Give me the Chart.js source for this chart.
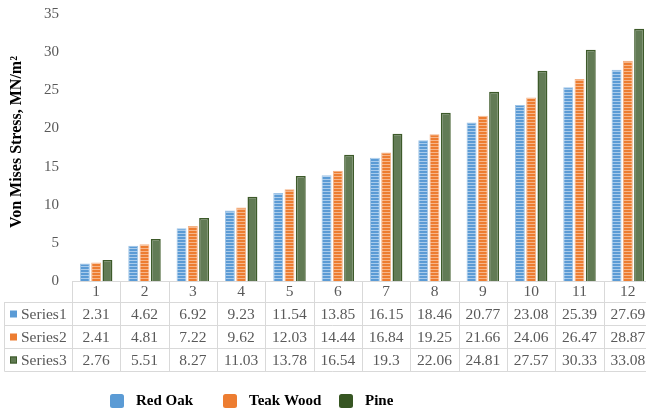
<!DOCTYPE html>
<html>
<head>
<meta charset="utf-8">
<script src="https://cdn.jsdelivr.net/npm/chart.js@4/dist/chart.umd.min.js"></script>
<style>
  html, body { margin: 0; padding: 0; overflow: hidden; background: #fff; width: 646px; height: 412px; }
  canvas { display: block; }
</style>
</head>
<body>
<canvas id="c" width="660" height="412"></canvas>
<script>
// Load steps along the x axis
const categories = ['1', '2', '3', '4', '5', '6', '7', '8', '9', '10', '11', '12'];

// Von Mises stress (MN/m²) per wood species
const redOak   = [2.31, 4.62, 6.92, 9.23, 11.54, 13.85, 16.15, 18.46, 20.77, 23.08, 25.39, 27.69];
const teakWood = [2.41, 4.81, 7.22, 9.62, 12.03, 14.44, 16.84, 19.25, 21.66, 24.06, 26.47, 28.87];
const pine     = [2.76, 5.51, 8.27, 11.03, 13.78, 16.54, 19.3, 22.06, 24.81, 27.57, 30.33, 33.08];

const seriesNames = ['Red Oak', 'Teak Wood', 'Pine'];
const tableRowNames = ['Series1', 'Series2', 'Series3'];

const yMin = 0, yMax = 35, yStep = 5;
const yTitle = 'Von Mises Stress, MN/m\u00B2';

const SERIF = "'Liberation Serif', 'Times New Roman', serif";
const canvas = document.getElementById('c');
const ctx = canvas.getContext('2d');

// horizontal-line hatch used on the blue and orange bars
function stripes(base, light) {
  const t = document.createElement('canvas');
  t.width = 4; t.height = 3;
  const g = t.getContext('2d');
  g.fillStyle = base; g.fillRect(0, 0, 4, 3);
  g.fillStyle = light; g.fillRect(0, 2, 4, 1);
  return ctx.createPattern(t, 'repeat');
}

const colors = {
  blue:   { fill: stripes('#5b9bd5', '#a9cbeb'), border: '#9dc3e6', key: '#5b9bd5', keyBorder: '#5b9bd5' },
  orange: { fill: stripes('#ed7d31', '#f6b68b'), border: '#f4b183', key: '#ed7d31', keyBorder: '#ed7d31' },
  green:  { fill: '#627b55', border: '#3d5a2a', key: '#607a52', keyBorder: '#3d5a2a' }
};
const seriesStyle = [colors.blue, colors.orange, colors.green];
const legendColors = ['#5b9bd5', '#ed7d31', '#375623'];

// axis title, data table and legend drawn around the plot, aligned to the scales
const tablePlugin = {
  id: 'dataTable',
  afterDraw(chart) {
    const c = chart.ctx;
    const x = chart.scales.x;
    const area = chart.chartArea;
    const n = categories.length;
    const colW = (area.right - area.left) / n;
    const top = area.bottom;
    const rows = [top, 302, 325, 348, 371];
    const leftEdge = 4.5;
    const values = [redOak, teakWood, pine];

    c.save();
    // rotated y-axis title
    c.save();
    c.translate(17, 142);
    c.rotate(-Math.PI / 2);
    c.fillStyle = '#000';
    c.font = 'bold 16px ' + SERIF;
    c.textAlign = 'center';
    c.textBaseline = 'middle';
    c.fillText(yTitle, 0, 0);
    c.restore();

    c.strokeStyle = '#d9d9d9';
    c.lineWidth = 1;
    c.beginPath();
    // header top line
    c.moveTo(area.left, Math.round(top) + 0.5);
    c.lineTo(chart.width, Math.round(top) + 0.5);
    for (let r = 1; r < rows.length; r++) {
      c.moveTo(leftEdge, rows[r] + 0.5);
      c.lineTo(chart.width, rows[r] + 0.5);
    }
    for (let i = 0; i <= n; i++) {
      const vx = Math.round(area.left + i * colW) + 0.5;
      c.moveTo(vx, top);
      c.lineTo(vx, rows[rows.length - 1] + 0.5);
    }
    c.moveTo(leftEdge, rows[1]);
    c.lineTo(leftEdge, rows[rows.length - 1] + 0.5);
    c.stroke();

    c.fillStyle = '#595959';
    c.font = '15.5px ' + SERIF;
    c.textAlign = 'center';
    c.textBaseline = 'middle';
    for (let i = 0; i < n; i++) {
      const cx = x.getPixelForValue(i);
      c.fillText(categories[i], cx, (rows[0] + rows[1]) / 2 + 0.5);
      for (let s = 0; s < values.length; s++) {
        c.fillText(String(values[s][i]), cx, (rows[s + 1] + rows[s + 2]) / 2 + 1);
      }
    }
    // row headers with colour keys
    c.textAlign = 'left';
    for (let s = 0; s < tableRowNames.length; s++) {
      const cy = (rows[s + 1] + rows[s + 2]) / 2 + 1;
      const st = seriesStyle[s];
      c.fillStyle = st.key;
      c.fillRect(10, cy - 4, 7, 7);
      if (s === 2) {
        c.strokeStyle = st.keyBorder;
        c.strokeRect(10.5, cy - 3.5, 6, 6);
      }
      c.fillStyle = '#595959';
      c.fillText(tableRowNames[s], 21, cy);
    }

    // legend
    const legendY = 401;
    const legendX = [110, 223, 339];
    c.font = 'bold 15px ' + SERIF;
    for (let s = 0; s < seriesNames.length; s++) {
      const bx = legendX[s];
      c.fillStyle = legendColors[s];
      c.beginPath();
      c.roundRect(bx, legendY - 7, 14, 14, 2.5);
      c.fill();
      c.fillStyle = '#000';
      c.fillText(seriesNames[s], bx + 26, legendY + 0.5);
    }
    c.restore();
  }
};

new Chart(canvas, {
  type: 'bar',
  data: {
    labels: categories,
    datasets: [redOak, teakWood, pine].map((d, i) => ({
      label: seriesNames[i],
      data: d,
      backgroundColor: seriesStyle[i].fill,
      borderColor: seriesStyle[i].border,
      borderWidth: i === 2 ? 1.5 : 1,
      categoryPercentage: 0.7,
      barPercentage: 0.88
    }))
  },
  options: {
    responsive: false,
    animation: false,
    devicePixelRatio: 1,
    layout: { padding: { left: 0, right: 8, top: 14, bottom: 131 } },
    plugins: {
      legend: { display: false },
      tooltip: { enabled: false }
    },
    scales: {
      x: { display: false },
      y: {
        min: yMin,
        max: yMax,
        ticks: { stepSize: yStep, color: '#595959', font: { family: SERIF, size: 15 }, padding: 13 },
        grid: { display: false, drawTicks: false },
        border: { display: false },
        title: { display: false },
        afterFit(scale) {
          scale.width = 72;
          scale.paddingTop = 0;
          scale.paddingBottom = 0;
        }
      }
    }
  },
  plugins: [tablePlugin]
});
</script>
</body>
</html>
